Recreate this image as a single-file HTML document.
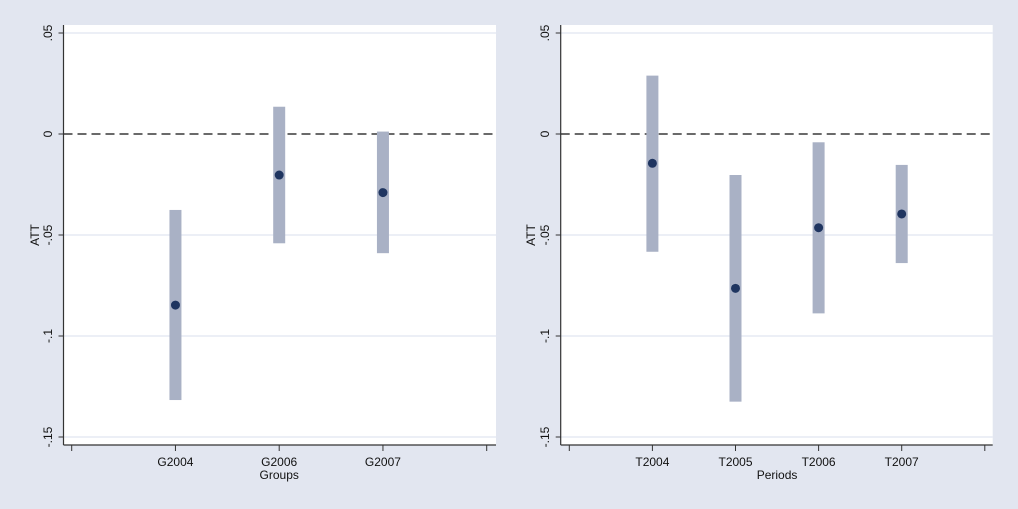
<!DOCTYPE html>
<html><head><meta charset="utf-8"><style>
body{margin:0;background:#e2e6f0;}
svg{display:block;font-family:"Liberation Sans",sans-serif;}
</style></head><body>
<svg id="c" width="1018" height="509"></svg>
<script>
const yTicks=[0.05,0,-0.05,-0.1,-0.15];
const yTickLabels=[".05","0","-.05","-.1","-.15"];
const leftCats=["G2004","G2006","G2007"];
const leftEst=[-0.0847,-0.0203,-0.029];
const leftLo=[-0.1317,-0.0541,-0.059];
const leftHi=[-0.0376,0.0135,0.0012];
const rightCats=["T2004","T2005","T2006","T2007"];
const rightEst=[-0.0145,-0.0764,-0.0464,-0.0396];
const rightLo=[-0.0583,-0.1325,-0.0888,-0.0639];
const rightHi=[0.0289,-0.0203,-0.0041,-0.0153];
const NS="http://www.w3.org/2000/svg";
const svg=document.getElementById('c');
function mk(t,a,p){const e=document.createElementNS(NS,t);for(const k in a)e.setAttribute(k,a[k]);(p||svg).appendChild(e);return e;}
const y=v=>134-v*2020;
function panel(name,x0,x1,tick0,step,cats,est,lo,hi,xtitle,lblX,attX){
  const g=mk('g',{});
  
  
  const bg=mk('rect',{x:x0,y:25,width:x1-x0,height:420,fill:'#fff'},g);
  
  
  yTicks.forEach((v,i)=>{
    if(v!==0){const gl=mk('line',{x1:x0,x2:x1,y1:y(v),y2:y(v),stroke:'#e1e5f0','stroke-width':1.2},g);
    
    }
    mk('line',{x1:x0-5,x2:x0,y1:y(v),y2:y(v),stroke:'#333'},g);
    const t=mk('text',{x:lblX,y:y(v),'font-size':12,'text-anchor':'middle',transform:`rotate(-90 ${lblX} ${y(v)})`,fill:'#111'},g);
    t.textContent=yTickLabels[i];
    
    
  });
  const zl=mk('line',{x1:x0,x2:x1,y1:y(0),y2:y(0),stroke:'#111','stroke-width':1.3,'stroke-dasharray':'9,5'},g);
  
  
  mk('line',{x1:x0,x2:x0,y1:25,y2:445,stroke:'#333','stroke-width':1.2},g);
  mk('line',{x1:x0,x2:x1,y1:445,y2:445,stroke:'#333','stroke-width':1.2},g);
  const n=cats.length;
  for(let i=0;i<=n+1;i++){const xx=tick0+i*step;mk('line',{x1:xx,x2:xx,y1:445,y2:451,stroke:'#333'},g);}
  const at=mk('text',{x:attX,y:235,'font-size':12,'text-anchor':'middle',transform:`rotate(-90 ${attX} 235)`,fill:'#111'},g);
  at.textContent='ATT';
  
  
  cats.forEach((c,i)=>{
    const xx=tick0+(i+1)*step;
    const b=mk('rect',{x:xx-6,y:y(hi[i]),width:12,height:y(lo[i])-y(hi[i]),fill:'#a9b1c5'},g);
    
    
    const p=mk('circle',{cx:xx,cy:y(est[i]),r:4.5,fill:'#1f3560'},g);
    
    
    const t=mk('text',{x:xx,y:466,'font-size':12,'text-anchor':'middle',fill:'#111'},g);
    t.textContent=c;
    
    
  });
  const xt=mk('text',{x:tick0+(n+1)*step/2,y:479,'font-size':12,'text-anchor':'middle',fill:'#111'},g);
  xt.textContent=xtitle;
  
  
}
panel('groups-panel',63.5,496,71.7,103.75,leftCats,leftEst,leftLo,leftHi,'Groups',52,39);
panel('periods-panel',560.7,992.7,569.3,83.1,rightCats,rightEst,rightLo,rightHi,'Periods',549,535);
</script>
</body></html>
